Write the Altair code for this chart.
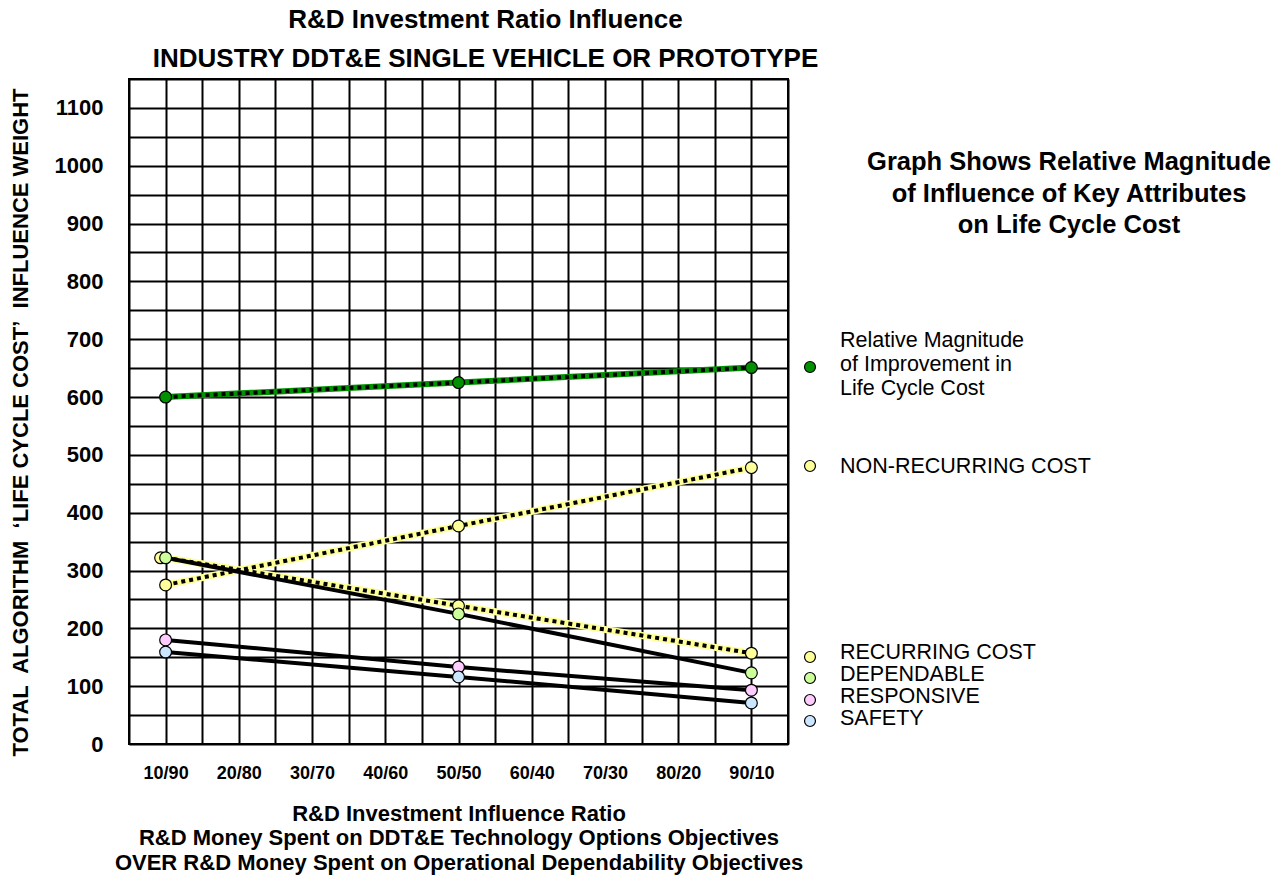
import json
import altair as alt
import pandas as pd

# ---------------- data ----------------
ratios = ["10/90", "20/80", "30/70", "40/60", "50/50", "60/40", "70/30", "80/20", "90/10"]
measured = ["10/90", "50/50", "90/10"]

series = ["LCC", "NON-RECURRING COST", "RECURRING COST", "DEPENDABLE", "RESPONSIVE", "SAFETY"]
lcc_improvement = [600, 625, 651]
non_recurring = [275, 377, 478]
recurring = [322, 239, 157]
dependable = [322, 225, 123]
responsive = [180, 133, 93]
safety = [159, 116, 71]
values_by_series = [lcc_improvement, non_recurring, recurring, dependable, responsive, safety]

legend_labels = [
    ["Relative Magnitude", "of Improvement in", "Life Cycle Cost"],
    ["NON-RECURRING COST"],
    ["RECURRING COST"],
    ["DEPENDABLE"],
    ["RESPONSIVE"],
    ["SAFETY"],
]
fills = ["#009000", "#ffff99", "#ffff99", "#ccff99", "#ffccff", "#cce6ff"]

rows = []
for s, vals in zip(series, values_by_series):
    for r, v in zip(measured, vals):
        rows.append({"series": s, "ratio": r, "xi": ratios.index(r) + 1, "val": v})
df = pd.DataFrame(rows)

FONT = "Liberation Sans"

x_axis = alt.Axis(
    values=[0.5 + 0.5 * i for i in range(19)],
    labelExpr=f"datum.value % 1 == 0 ? {json.dumps(ratios)}[datum.value - 1] : ''",
    ticks=False, domain=False, grid=True, gridColor="black", gridWidth=2, gridOpacity=1,
    labelOverlap=False, labelFlush=False,
    labelFont=FONT, labelFontWeight="bold", labelFontSize=18, labelColor="black",
    labelPadding=20,
    title=["R&D Investment Influence Ratio",
           "R&D Money Spent on DDT&E Technology Options Objectives",
           "OVER R&D Money Spent on Operational Dependability Objectives"],
    titleFont=FONT, titleFontWeight="bold", titleFontSize=22, titleLineHeight=24.5,
    titleColor="black", titlePadding=21,
)
y_axis = alt.Axis(
    values=list(range(0, 1151, 50)),
    labelExpr="datum.value % 100 == 0 && datum.value <= 1100 ? datum.label : ''",
    format="d", ticks=False, domain=False, grid=True, gridColor="black", gridWidth=2,
    gridOpacity=1, labelOverlap=False, labelFlush=False,
    labelFont=FONT, labelFontWeight="bold", labelFontSize=22, labelColor="black",
    labelPadding=26,
    title="TOTAL\u00a0 ALGORITHM\u00a0 \u2018LIFE CYCLE COST\u2019\u00a0 INFLUENCE WEIGHT",
    titleFont=FONT, titleFontWeight="bold", titleFontSize=22, titleColor="black",
    titlePadding=22, titleY=343,
)

base = alt.Chart(df).encode(
    x=alt.X("xi:Q", scale=alt.Scale(domain=[0.5, 9.5], nice=False, zero=False), axis=x_axis),
    y=alt.Y("val:Q", scale=alt.Scale(domain=[0, 1150], nice=False), axis=y_axis),
    detail="series:N",
)

def only(names):
    return alt.FieldOneOfPredicate(field="series", oneOf=names)

green_band = base.mark_line(color="#009000", strokeWidth=6).transform_filter(only(["LCC"]))
yellow_band = base.mark_line(color="#ffff99", strokeWidth=7).transform_filter(
    only(["NON-RECURRING COST", "RECURRING COST"]))
dotted = base.mark_line(color="black", strokeWidth=4, strokeDash=[4, 4], strokeCap="butt").transform_filter(
    only(["LCC", "NON-RECURRING COST", "RECURRING COST"]))
solid = base.mark_line(color="black", strokeWidth=4).transform_filter(
    only(["DEPENDABLE", "RESPONSIVE", "SAFETY"]))

color_scale = alt.Scale(domain=series, range=fills)
pt_kw = dict(filled=True, shape="circle", size=140, stroke="black", strokeWidth=1.2, opacity=1)
rec_first = base.mark_point(xOffset=-5, **pt_kw).encode(
    fill=alt.Fill("series:N", scale=color_scale, legend=None)
).transform_filter(
    (alt.datum.series == "RECURRING COST") & (alt.datum.xi == 1))
points = base.mark_point(**pt_kw).encode(
    fill=alt.Fill("series:N", scale=color_scale, legend=None)
).transform_filter(
    ~((alt.datum.series == "RECURRING COST") & (alt.datum.xi == 1)))

one = pd.DataFrame({"k": [0]})

# legend (custom, positioned beside the end of each series)
legend_marker_y = [288, 387, 578, 599, 621, 642]
legend_text_y = [262, 388, 574, 596, 618, 640]
legend_layers = []
for fill, lab, my, ty in zip(fills, legend_labels, legend_marker_y, legend_text_y):
    legend_layers.append(
        alt.Chart(one).mark_point(filled=True, shape="circle", size=120, stroke="black",
                                  strokeWidth=1.2, fill=fill, opacity=1)
        .encode(x=alt.value(681), y=alt.value(my)))
    legend_layers.append(
        alt.Chart(one).mark_text(align="left", baseline="middle", font=FONT, fontSize=21.5,
                                 lineHeight=24, color="black")
        .encode(x=alt.value(711), y=alt.value(ty), text=alt.value(lab if len(lab) > 1 else lab[0])))

note = alt.Chart(one).mark_text(align="center", baseline="middle", font=FONT, fontSize=25.5,
                                fontWeight="bold", lineHeight=31.5, color="black").encode(
    x=alt.value(940), y=alt.value(83),
    text=alt.value(["Graph Shows Relative Magnitude", "of Influence of Key Attributes",
                    "on Life Cycle Cost"]))

chart = alt.layer(
    green_band, yellow_band, dotted, solid, rec_first, points, note, *legend_layers
).properties(
    width=659, height=665,
    autosize=alt.AutoSizeParams(type="none"),
    padding={"left": 129, "top": 79, "right": 499, "bottom": 133},
    title=alt.TitleParams(
        text=["R&D Investment Ratio Influence", "INDUSTRY DDT&E SINGLE VEHICLE OR PROTOTYPE"],
        font=FONT, fontSize=26, fontWeight="bold", lineHeight=39, color="black",
        anchor="middle", dx=27, offset=-4,
    ),
).configure(background="white").configure_view(stroke="black", strokeWidth=2)

chart.save("out.html", embed_options={"renderer": "svg", "actions": False})
